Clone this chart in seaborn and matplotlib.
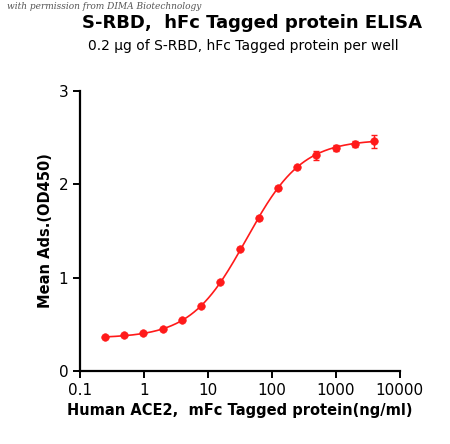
import numpy as np
import pandas as pd
import matplotlib
matplotlib.use("Agg")
import matplotlib.pyplot as plt
import seaborn as sns

conc = [0.244, 0.488, 0.977, 1.95, 3.9, 7.8, 15.6, 31.25, 62.5, 125, 250, 500, 1000, 2000, 4000]
od = [0.36, 0.38, 0.40, 0.45, 0.54, 0.69, 0.95, 1.31, 1.64, 1.96, 2.18, 2.31, 2.39, 2.43, 2.46]
err = [0.01, 0.01, 0.01, 0.01, 0.01, 0.01, 0.01, 0.02, 0.02, 0.02, 0.02, 0.05, 0.03, 0.03, 0.07]

df = pd.DataFrame({"conc": conc, "od": od})

# 4PL fit by coarse grid search
x = np.array(conc); y = np.array(od)
best = None
for b in np.linspace(0.3, 0.4, 11):
    for t in np.linspace(2.4, 2.6, 21):
        for ec in np.geomspace(15, 80, 40):
            for h in np.linspace(0.7, 1.5, 33):
                p = b + (t - b) / (1 + (ec / x) ** h)
                s = ((p - y) ** 2).sum()
                if best is None or s < best[0]:
                    best = (s, b, t, ec, h)
_, b, t, ec, h = best
xf = np.geomspace(min(conc), max(conc), 300)
fit = pd.DataFrame({"conc": xf, "od": b + (t - b) / (1 + (ec / xf) ** h)})

sns.set_style("ticks")
plt.rcParams["text.color"] = "black"
plt.rcParams["axes.labelcolor"] = "black"
plt.rcParams["xtick.color"] = "black"
plt.rcParams["ytick.color"] = "black"
plt.rcParams["axes.edgecolor"] = "black"
fig = plt.figure(figsize=(4.5, 4.44), dpi=100)
ax = fig.add_axes([0.178, 0.165, 0.71, 0.63])
red = "#ff1a1a"
sns.lineplot(data=fit, x="conc", y="od", color=red, lw=1.2, ax=ax)
ax.errorbar(conc, od, yerr=err, fmt="none", ecolor=red, elinewidth=1, capsize=2)
sns.scatterplot(data=df, x="conc", y="od", color=red, s=30, edgecolor=red, ax=ax, zorder=5)
ax.set_xscale("log")
ax.set_xlim(0.1, 10000)
ax.set_ylim(0, 3)
ax.set_yticks([0, 1, 2, 3])
ax.set_xticks([0.1, 1, 10, 100, 1000, 10000])
ax.set_xticklabels(["0.1", "1", "10", "100", "1000", "10000"])
ax.minorticks_off()
for s in ["left", "bottom"]:
    ax.spines[s].set_linewidth(1.6)
sns.despine(ax=ax)
ax.tick_params(width=1.4, length=5, labelsize=11)
ax.set_xlabel("Human ACE2,  mFc Tagged protein(ng/ml)", fontsize=10.5, fontweight="bold")
ax.set_ylabel("Mean Ads.(OD450)", fontsize=10.5, fontweight="bold")
fig.text(0.56, 0.948, "S-RBD,  hFc Tagged protein ELISA", ha="center", va="center",
         fontsize=13, fontweight="bold")
fig.text(0.54, 0.896, "0.2 µg of S-RBD, hFc Tagged protein per well", ha="center", va="center",
         fontsize=10)
fig.text(0.015, 0.995, "with permission from DIMA Biotechnology", fontsize=6.5, style="italic",
         color="#555555", family="serif", va="top")
fig.savefig("out.png", dpi=100)
